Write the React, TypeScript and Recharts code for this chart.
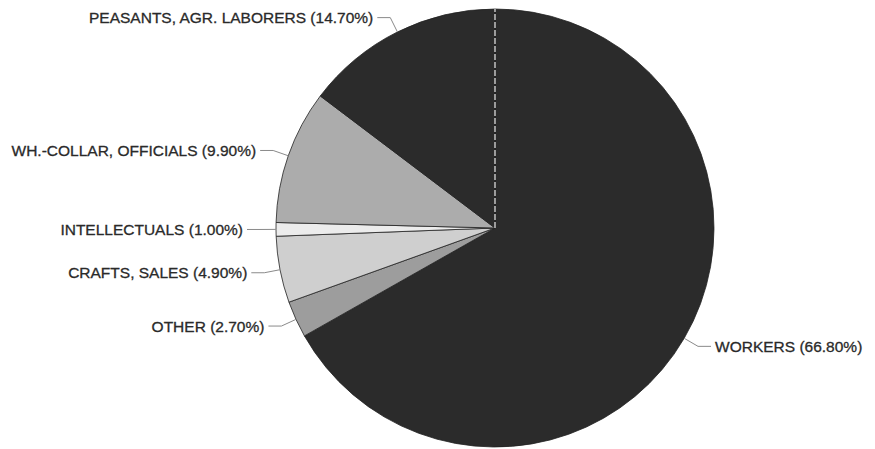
import React from 'react';
import { PieChart, Pie, Cell } from 'recharts';

// Occupational composition, in percent of the total
const categories = [
  'WORKERS',
  'OTHER',
  'CRAFTS, SALES',
  'INTELLECTUALS',
  'WH.-COLLAR, OFFICIALS',
  'PEASANTS, AGR. LABORERS',
];
const shares = [66.8, 2.7, 4.9, 1.0, 9.9, 14.7];
const fills = ['#2b2b2b', '#9d9d9d', '#cfcfcf', '#ececec', '#acacac', '#2b2b2b'];

const data = categories.map((name, i) => ({ name, value: shares[i] }));

const RAD = Math.PI / 180;
const LABEL_FONT = '"Liberation Sans", Arial, Helvetica, sans-serif';

function polar(cx: number, cy: number, r: number, angle: number) {
  return { x: cx + r * Math.cos(-angle * RAD), y: cy + r * Math.sin(-angle * RAD) };
}

function renderLabel(props: any) {
  const { cx, cy, outerRadius, midAngle, startAngle, index, payload, value } = props;
  const name = payload?.name ?? props.name;
  const edge = polar(cx, cy, outerRadius, midAngle);
  const elbow = polar(cx, cy, outerRadius + 16, midAngle);
  const right = Math.cos(-midAngle * RAD) >= 0;
  const hLen = 13;
  const endX = right ? elbow.x + hLen : elbow.x - hLen;
  const textX = right ? endX + 4 : endX - 4;
  const top = polar(cx, cy, outerRadius, startAngle);
  return (
    <g>
      {index === 0 && (
        <line
          x1={cx}
          y1={cy}
          x2={top.x}
          y2={top.y}
          stroke="#cfcfcf"
          strokeWidth={1.4}
          strokeDasharray="6 2"
        />
      )}
      <polyline
        points={`${edge.x},${edge.y} ${elbow.x},${elbow.y} ${endX},${elbow.y}`}
        fill="none"
        stroke="#8a8a8a"
        strokeWidth={1}
      />
      <text
        x={textX}
        y={elbow.y}
        textAnchor={right ? 'start' : 'end'}
        dominantBaseline="central"
        fontFamily={LABEL_FONT}
        fontSize={15.5}
        fill="#2a2a2a"
        stroke="#2a2a2a"
        strokeWidth={0.3}
      >
        {`${name} (${Number(value).toFixed(2)}%)`}
      </text>
    </g>
  );
}

export default function App() {
  return (
    <div style={{ position: 'absolute', left: 0, top: 0, width: 875, height: 449, background: '#fff' }}>
      <PieChart width={875} height={449} margin={{ top: 0, right: 0, bottom: 0, left: 0 }}>
        <Pie
          data={data}
          dataKey="value"
          nameKey="name"
          cx={495}
          cy={228}
          outerRadius={219}
          startAngle={90}
          endAngle={-270}
          label={renderLabel}
          labelLine={false}
          isAnimationActive={false}
        >
          {data.map((d, i) => (
            <Cell key={d.name} fill={fills[i]} stroke="#222" strokeWidth={0.8} />
          ))}
        </Pie>
      </PieChart>
    </div>
  );
}
